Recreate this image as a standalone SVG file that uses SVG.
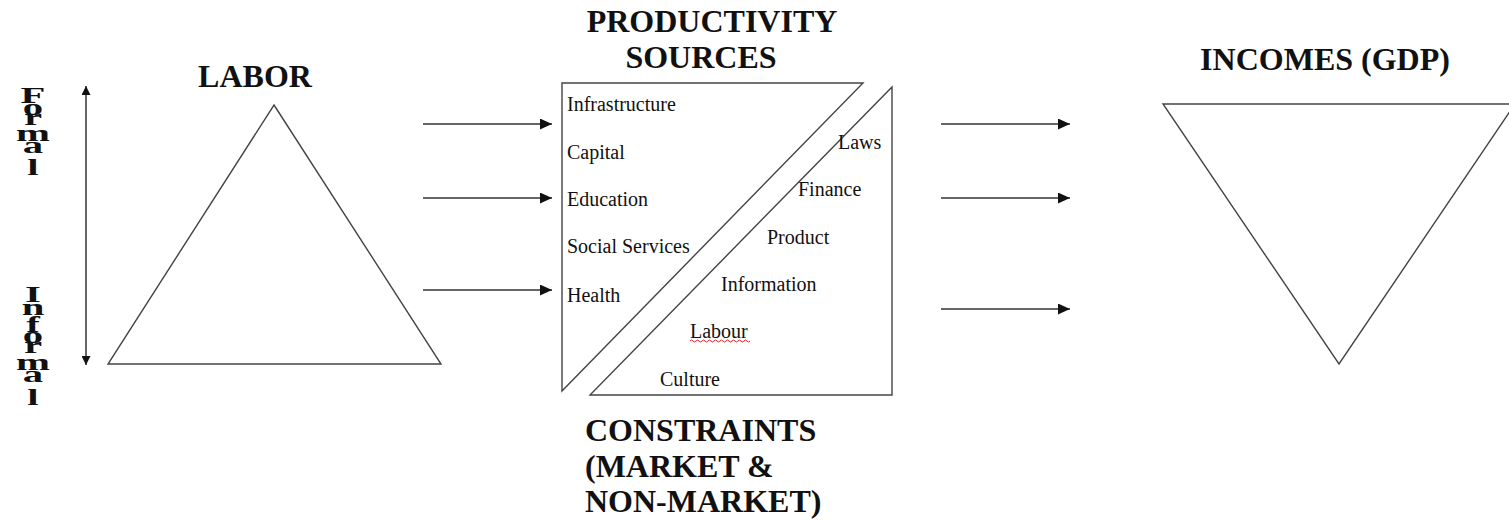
<svg xmlns="http://www.w3.org/2000/svg" width="1509" height="521" viewBox="0 0 1509 521">
<style>
.shape{fill:#fff;stroke:#444;stroke-width:1.4;}
.conn{stroke:#333;stroke-width:1.5;fill:none;}
.lbl{font-family:"Liberation Serif","Times New Roman",serif;font-size:20px;fill:#111;}
.head{font-family:"Liberation Serif","Times New Roman",serif;font-size:32px;font-weight:bold;fill:#111;}
.vert{font-family:"Liberation Serif","Times New Roman",serif;font-size:24px;font-weight:bold;fill:#111;text-anchor:middle;}
</style>
<defs>
<marker id="ah" viewBox="0 0 10 10" refX="10" refY="5" markerWidth="9" markerHeight="9" markerUnits="userSpaceOnUse" orient="auto-start-reverse">
<path d="M0,0 L10,5 L0,10 z" fill="#111"/>
</marker>
<marker id="ah2" viewBox="0 0 10 10" refX="10" refY="5" markerWidth="12" markerHeight="11" markerUnits="userSpaceOnUse" orient="auto-start-reverse" preserveAspectRatio="none">
<path d="M0,0 L10,5 L0,10 z" fill="#111"/>
</marker>
</defs>

<g id="formal-informal">
<g transform="translate(33,0) scale(1.7,0.95)">
<text class="vert"><tspan x="0" y="108.4">F</tspan><tspan x="0" y="121">o</tspan><tspan x="0" y="131.6">r</tspan><tspan x="0" y="148.4">m</tspan><tspan x="0" y="161">a</tspan><tspan x="0" y="184.2">l</tspan></text>
<text class="vert"><tspan x="0" y="317.9">I</tspan><tspan x="0" y="331.6">n</tspan><tspan x="0" y="349.5">f</tspan><tspan x="0" y="361.1">o</tspan><tspan x="0" y="371.6">r</tspan><tspan x="0" y="389.5">m</tspan><tspan x="0" y="402.1">a</tspan><tspan x="0" y="426.3">l</tspan></text>
</g>
</g>

<g id="labor">
<polygon class="shape" points="274,105 441,364 108,364"/>
<text class="head" x="255" y="87" text-anchor="middle">LABOR</text>
</g>

<g id="productivity">
<polygon class="shape" points="562,83 863,83 562,391"/>
<text class="head" x="712" y="32" text-anchor="middle">PRODUCTIVITY</text>
<text class="head" x="701" y="68" text-anchor="middle">SOURCES</text>
<text class="lbl" x="567" y="111">Infrastructure</text>
<text class="lbl" x="567" y="159">Capital</text>
<text class="lbl" x="567" y="206">Education</text>
<text class="lbl" x="567" y="253">Social Services</text>
<text class="lbl" x="567" y="302">Health</text>
</g>

<g id="constraints">
<polygon class="shape" points="892,87 892,395 590,395"/>
<text class="lbl" x="838" y="149">Laws</text>
<text class="lbl" x="798" y="196">Finance</text>
<text class="lbl" x="767" y="244">Product</text>
<text class="lbl" x="721" y="291">Information</text>
<text class="lbl" x="690" y="338">Labour</text>
<path d="M690,341 q1.5,-2 3,0 t3,0 t3,0 t3,0 t3,0 t3,0 t3,0 t3,0 t3,0 t3,0 t3,0 t3,0 t3,0 t3,0 t3,0 t3,0 t3,0 t3,0 t3,0 t3,0" fill="none" stroke="#e02020" stroke-width="1"/>
<text class="lbl" x="660" y="386">Culture</text>
<text class="head" x="585" y="441">CONSTRAINTS</text>
<text class="head" x="585" y="477">(MARKET &amp;</text>
<text class="head" x="585" y="512">NON-MARKET)</text>
</g>

<g id="incomes">
<polygon class="shape" points="1163,104 1515,104 1339,364"/>
<text class="head" x="1325" y="70" text-anchor="middle">INCOMES (GDP)</text>
</g>

<g id="connectors">
<line class="conn" x1="86" y1="86" x2="86" y2="365" marker-start="url(#ah)" marker-end="url(#ah)"/>
<line class="conn" x1="423" y1="124" x2="552" y2="124" marker-end="url(#ah2)"/>
<line class="conn" x1="423" y1="198" x2="552" y2="198" marker-end="url(#ah2)"/>
<line class="conn" x1="423" y1="290" x2="552" y2="290" marker-end="url(#ah2)"/>
<line class="conn" x1="941" y1="124" x2="1070" y2="124" marker-end="url(#ah2)"/>
<line class="conn" x1="941" y1="198" x2="1070" y2="198" marker-end="url(#ah2)"/>
<line class="conn" x1="941" y1="309" x2="1070" y2="309" marker-end="url(#ah2)"/>
</g>
</svg>
